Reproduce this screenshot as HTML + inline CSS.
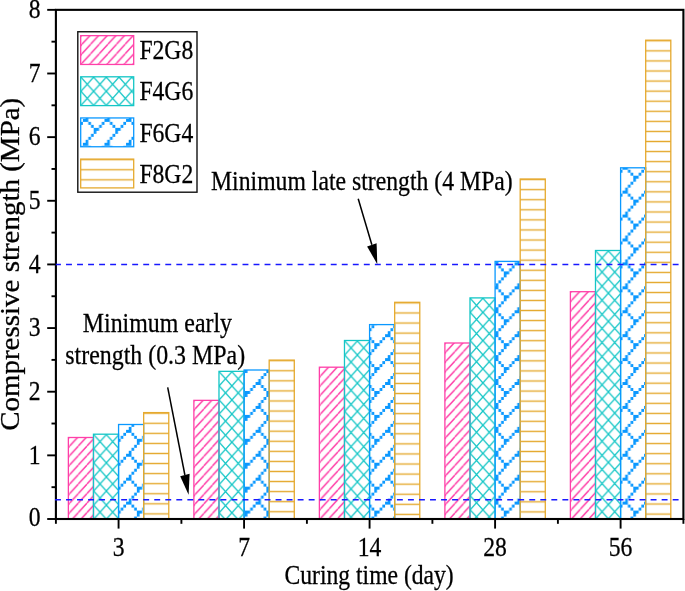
<!DOCTYPE html><html><head><meta charset="utf-8"><style>html,body{margin:0;padding:0;background:#fff;}svg{display:block;will-change:transform;}</style></head><body>
<svg width="685" height="591" viewBox="0 0 685 591">
<defs>
<pattern id="pk" patternUnits="userSpaceOnUse" x="1.3" y="-0.9" width="8.64" height="9.5"><path d="M-8.64 9.5 L0 0 M0 9.5 L8.64 0 M8.64 9.5 L17.28 0" stroke="#FF3FA8" stroke-width="1.45" fill="none"/></pattern>
<pattern id="cy" patternUnits="userSpaceOnUse" x="0.2" y="0.4" width="12.7" height="14.1"><path d="M0 0 L12.7 14.1 M0 14.1 L12.7 0 M-12.7 0 L0 14.1 M12.7 0 L25.4 14.1 M-12.7 14.1 L0 0 M12.7 14.1 L25.4 0" stroke="#14C6C6" stroke-width="1.35" fill="none"/></pattern>
<pattern id="or" patternUnits="userSpaceOnUse" x="0" y="-4.4350000000000005" width="20" height="10.07"><path d="M-1 5.035 L21 5.035" stroke="#E5A92E" stroke-width="1.4" fill="none"/></pattern>
<pattern id="bl2" patternUnits="userSpaceOnUse" x="-35.670" y="-305.600" width="21.584" height="23.920"><g fill="#0A98FF"><path d="M0.000 0.000h2.698v2.990h-2.698zM2.698 0.000h2.698v2.990h-2.698zM5.396 2.990h2.698v2.990h-2.698zM18.886 2.990h2.698v2.990h-2.698zM8.094 5.980h2.698v2.990h-2.698zM16.188 5.980h2.698v2.990h-2.698zM10.792 8.970h2.698v2.990h-2.698zM13.490 8.970h2.698v2.990h-2.698zM10.792 11.960h2.698v2.990h-2.698zM8.094 14.950h2.698v2.990h-2.698zM5.396 17.940h2.698v2.990h-2.698zM2.698 20.930h2.698v2.990h-2.698z"/></g></pattern>
<pattern id="bl6" patternUnits="userSpaceOnUse" x="-161.180" y="-251.100" width="21.584" height="23.920"><g fill="#0A98FF"><path d="M0.000 0.000h2.698v2.990h-2.698zM2.698 0.000h2.698v2.990h-2.698zM5.396 2.990h2.698v2.990h-2.698zM18.886 2.990h2.698v2.990h-2.698zM8.094 5.980h2.698v2.990h-2.698zM16.188 5.980h2.698v2.990h-2.698zM10.792 8.970h2.698v2.990h-2.698zM13.490 8.970h2.698v2.990h-2.698zM10.792 11.960h2.698v2.990h-2.698zM8.094 14.950h2.698v2.990h-2.698zM5.396 17.940h2.698v2.990h-2.698zM2.698 20.930h2.698v2.990h-2.698z"/></g></pattern>
<pattern id="bl10" patternUnits="userSpaceOnUse" x="-286.680" y="-205.700" width="21.584" height="23.920"><g fill="#0A98FF"><path d="M0.000 0.000h2.698v2.990h-2.698zM2.698 0.000h2.698v2.990h-2.698zM5.396 2.990h2.698v2.990h-2.698zM18.886 2.990h2.698v2.990h-2.698zM8.094 5.980h2.698v2.990h-2.698zM16.188 5.980h2.698v2.990h-2.698zM10.792 8.970h2.698v2.990h-2.698zM13.490 8.970h2.698v2.990h-2.698zM10.792 11.960h2.698v2.990h-2.698zM8.094 14.950h2.698v2.990h-2.698zM5.396 17.940h2.698v2.990h-2.698zM2.698 20.930h2.698v2.990h-2.698z"/></g></pattern>
<pattern id="bl14" patternUnits="userSpaceOnUse" x="-412.190" y="-142.500" width="21.584" height="23.920"><g fill="#0A98FF"><path d="M0.000 0.000h2.698v2.990h-2.698zM2.698 0.000h2.698v2.990h-2.698zM5.396 2.990h2.698v2.990h-2.698zM18.886 2.990h2.698v2.990h-2.698zM8.094 5.980h2.698v2.990h-2.698zM16.188 5.980h2.698v2.990h-2.698zM10.792 8.970h2.698v2.990h-2.698zM13.490 8.970h2.698v2.990h-2.698zM10.792 11.960h2.698v2.990h-2.698zM8.094 14.950h2.698v2.990h-2.698zM5.396 17.940h2.698v2.990h-2.698zM2.698 20.930h2.698v2.990h-2.698z"/></g></pattern>
<pattern id="bl18" patternUnits="userSpaceOnUse" x="-537.700" y="-48.900" width="21.584" height="23.920"><g fill="#0A98FF"><path d="M0.000 0.000h2.698v2.990h-2.698zM2.698 0.000h2.698v2.990h-2.698zM5.396 2.990h2.698v2.990h-2.698zM18.886 2.990h2.698v2.990h-2.698zM8.094 5.980h2.698v2.990h-2.698zM16.188 5.980h2.698v2.990h-2.698zM10.792 8.970h2.698v2.990h-2.698zM13.490 8.970h2.698v2.990h-2.698zM10.792 11.960h2.698v2.990h-2.698zM8.094 14.950h2.698v2.990h-2.698zM5.396 17.940h2.698v2.990h-2.698zM2.698 20.930h2.698v2.990h-2.698z"/></g></pattern>
<pattern id="bl22" patternUnits="userSpaceOnUse" x="2.200" y="0.950" width="21.584" height="23.920"><g fill="#0A98FF"><path d="M0.000 0.000h2.698v2.990h-2.698zM2.698 0.000h2.698v2.990h-2.698zM5.396 2.990h2.698v2.990h-2.698zM18.886 2.990h2.698v2.990h-2.698zM8.094 5.980h2.698v2.990h-2.698zM16.188 5.980h2.698v2.990h-2.698zM10.792 8.970h2.698v2.990h-2.698zM13.490 8.970h2.698v2.990h-2.698zM10.792 11.960h2.698v2.990h-2.698zM8.094 14.950h2.698v2.990h-2.698zM5.396 17.940h2.698v2.990h-2.698zM2.698 20.930h2.698v2.990h-2.698z"/></g></pattern>
</defs>
<style>text{stroke:#000;stroke-width:0.28px;paint-order:stroke;}</style>
<rect x="0" y="0" width="685" height="591" fill="#fff"/>
<rect transform="translate(68.37,437.50)" x="0" y="0" width="25.10" height="81.50" fill="url(#pk)" stroke="#FF3FA8" stroke-width="1.3"/>
<rect transform="translate(93.47,434.20)" x="0" y="0" width="25.10" height="84.80" fill="url(#cy)" stroke="#14C6C6" stroke-width="1.3"/>
<rect transform="translate(118.57,424.50)" x="0" y="0" width="25.10" height="94.50" fill="url(#bl2)" stroke="#0A98FF" stroke-width="1.3"/>
<rect transform="translate(143.67,412.60)" x="0" y="0" width="25.10" height="106.40" fill="url(#or)" stroke="#E5A92E" stroke-width="1.3"/>
<rect transform="translate(193.88,400.35)" x="0" y="0" width="25.10" height="118.65" fill="url(#pk)" stroke="#FF3FA8" stroke-width="1.3"/>
<rect transform="translate(218.98,371.35)" x="0" y="0" width="25.10" height="147.65" fill="url(#cy)" stroke="#14C6C6" stroke-width="1.3"/>
<rect transform="translate(244.08,370.00)" x="0" y="0" width="25.10" height="149.00" fill="url(#bl6)" stroke="#0A98FF" stroke-width="1.3"/>
<rect transform="translate(269.18,360.10)" x="0" y="0" width="25.10" height="158.90" fill="url(#or)" stroke="#E5A92E" stroke-width="1.3"/>
<rect transform="translate(319.38,367.20)" x="0" y="0" width="25.10" height="151.80" fill="url(#pk)" stroke="#FF3FA8" stroke-width="1.3"/>
<rect transform="translate(344.48,340.50)" x="0" y="0" width="25.10" height="178.50" fill="url(#cy)" stroke="#14C6C6" stroke-width="1.3"/>
<rect transform="translate(369.58,324.60)" x="0" y="0" width="25.10" height="194.40" fill="url(#bl10)" stroke="#0A98FF" stroke-width="1.3"/>
<rect transform="translate(394.68,302.30)" x="0" y="0" width="25.10" height="216.70" fill="url(#or)" stroke="#E5A92E" stroke-width="1.3"/>
<rect transform="translate(444.89,343.00)" x="0" y="0" width="25.10" height="176.00" fill="url(#pk)" stroke="#FF3FA8" stroke-width="1.3"/>
<rect transform="translate(469.99,297.90)" x="0" y="0" width="25.10" height="221.10" fill="url(#cy)" stroke="#14C6C6" stroke-width="1.3"/>
<rect transform="translate(495.09,261.40)" x="0" y="0" width="25.10" height="257.60" fill="url(#bl14)" stroke="#0A98FF" stroke-width="1.3"/>
<rect transform="translate(520.19,179.00)" x="0" y="0" width="25.10" height="340.00" fill="url(#or)" stroke="#E5A92E" stroke-width="1.3"/>
<rect transform="translate(570.40,291.70)" x="0" y="0" width="25.10" height="227.30" fill="url(#pk)" stroke="#FF3FA8" stroke-width="1.3"/>
<rect transform="translate(595.50,250.50)" x="0" y="0" width="25.10" height="268.50" fill="url(#cy)" stroke="#14C6C6" stroke-width="1.3"/>
<rect transform="translate(620.60,167.80)" x="0" y="0" width="25.10" height="351.20" fill="url(#bl18)" stroke="#0A98FF" stroke-width="1.3"/>
<rect transform="translate(645.70,40.20)" x="0" y="0" width="25.10" height="478.80" fill="url(#or)" stroke="#E5A92E" stroke-width="1.3"/>
<rect x="77.8" y="31.75" width="119.2" height="160.45" fill="#fff" stroke="#111" stroke-width="1.4"/>
<rect transform="translate(80.70,35.65)" x="0" y="0" width="53.00" height="28.80" fill="url(#pk)" stroke="#FF3FA8" stroke-width="1.3"/>
<text transform="translate(139.4,59.10) scale(0.875,1)" font-family='"Liberation Serif", serif' font-size="27" fill="#000">F2G8</text>
<rect transform="translate(80.70,76.80)" x="0" y="0" width="53.00" height="28.80" fill="url(#cy)" stroke="#14C6C6" stroke-width="1.3"/>
<text transform="translate(139.4,100.40) scale(0.875,1)" font-family='"Liberation Serif", serif' font-size="27" fill="#000">F4G6</text>
<rect transform="translate(80.70,117.95)" x="0" y="0" width="53.00" height="28.80" fill="url(#bl22)" stroke="#0A98FF" stroke-width="1.3"/>
<text transform="translate(139.4,141.70) scale(0.875,1)" font-family='"Liberation Serif", serif' font-size="27" fill="#000">F6G4</text>
<rect transform="translate(80.70,159.10)" x="0" y="0" width="53.00" height="28.80" fill="url(#or)" stroke="#E5A92E" stroke-width="1.3"/>
<text transform="translate(139.4,183.00) scale(0.875,1)" font-family='"Liberation Serif", serif' font-size="27" fill="#000">F8G2</text>
<rect x="55.9" y="9.85" width="627.50" height="509.15" fill="none" stroke="#000" stroke-width="2.1"/>
<line x1="55" y1="264.4" x2="683.4" y2="264.4" stroke="#1818FF" stroke-width="1.5" stroke-dasharray="5.9 5.13"/>
<line x1="55" y1="499.7" x2="683.4" y2="499.7" stroke="#1818FF" stroke-width="1.5" stroke-dasharray="5.9 5.13"/>
<line x1="47.20" y1="519.00" x2="55.9" y2="519.00" stroke="#000" stroke-width="1.9"/>
<text transform="translate(40.6,526.30) scale(0.875,1)" font-family='"Liberation Serif", serif' font-size="27" text-anchor="end">0</text>
<line x1="51.50" y1="487.18" x2="55.9" y2="487.18" stroke="#000" stroke-width="1.9"/>
<line x1="47.20" y1="455.36" x2="55.9" y2="455.36" stroke="#000" stroke-width="1.9"/>
<text transform="translate(40.6,463.56) scale(0.875,1)" font-family='"Liberation Serif", serif' font-size="27" text-anchor="end">1</text>
<line x1="51.50" y1="423.53" x2="55.9" y2="423.53" stroke="#000" stroke-width="1.9"/>
<line x1="47.20" y1="391.71" x2="55.9" y2="391.71" stroke="#000" stroke-width="1.9"/>
<text transform="translate(40.6,399.91) scale(0.875,1)" font-family='"Liberation Serif", serif' font-size="27" text-anchor="end">2</text>
<line x1="51.50" y1="359.89" x2="55.9" y2="359.89" stroke="#000" stroke-width="1.9"/>
<line x1="47.20" y1="328.07" x2="55.9" y2="328.07" stroke="#000" stroke-width="1.9"/>
<text transform="translate(40.6,336.27) scale(0.875,1)" font-family='"Liberation Serif", serif' font-size="27" text-anchor="end">3</text>
<line x1="51.50" y1="296.25" x2="55.9" y2="296.25" stroke="#000" stroke-width="1.9"/>
<line x1="47.20" y1="264.43" x2="55.9" y2="264.43" stroke="#000" stroke-width="1.9"/>
<text transform="translate(40.6,272.62) scale(0.875,1)" font-family='"Liberation Serif", serif' font-size="27" text-anchor="end">4</text>
<line x1="51.50" y1="232.60" x2="55.9" y2="232.60" stroke="#000" stroke-width="1.9"/>
<line x1="47.20" y1="200.78" x2="55.9" y2="200.78" stroke="#000" stroke-width="1.9"/>
<text transform="translate(40.6,208.98) scale(0.875,1)" font-family='"Liberation Serif", serif' font-size="27" text-anchor="end">5</text>
<line x1="51.50" y1="168.96" x2="55.9" y2="168.96" stroke="#000" stroke-width="1.9"/>
<line x1="47.20" y1="137.14" x2="55.9" y2="137.14" stroke="#000" stroke-width="1.9"/>
<text transform="translate(40.6,145.34) scale(0.875,1)" font-family='"Liberation Serif", serif' font-size="27" text-anchor="end">6</text>
<line x1="51.50" y1="105.32" x2="55.9" y2="105.32" stroke="#000" stroke-width="1.9"/>
<line x1="47.20" y1="73.49" x2="55.9" y2="73.49" stroke="#000" stroke-width="1.9"/>
<text transform="translate(40.6,81.69) scale(0.875,1)" font-family='"Liberation Serif", serif' font-size="27" text-anchor="end">7</text>
<line x1="51.50" y1="41.67" x2="55.9" y2="41.67" stroke="#000" stroke-width="1.9"/>
<line x1="47.20" y1="9.85" x2="55.9" y2="9.85" stroke="#000" stroke-width="1.9"/>
<text transform="translate(40.6,18.05) scale(0.875,1)" font-family='"Liberation Serif", serif' font-size="27" text-anchor="end">8</text>
<line x1="118.57" y1="519.0" x2="118.57" y2="528.60" stroke="#000" stroke-width="1.9"/>
<text transform="translate(118.57,556.2) scale(0.875,1)" font-family='"Liberation Serif", serif' font-size="27" text-anchor="middle">3</text>
<line x1="244.08" y1="519.0" x2="244.08" y2="528.60" stroke="#000" stroke-width="1.9"/>
<text transform="translate(244.08,556.2) scale(0.875,1)" font-family='"Liberation Serif", serif' font-size="27" text-anchor="middle">7</text>
<line x1="369.58" y1="519.0" x2="369.58" y2="528.60" stroke="#000" stroke-width="1.9"/>
<text transform="translate(369.58,556.2) scale(0.875,1)" font-family='"Liberation Serif", serif' font-size="27" text-anchor="middle">14</text>
<line x1="495.09" y1="519.0" x2="495.09" y2="528.60" stroke="#000" stroke-width="1.9"/>
<text transform="translate(495.09,556.2) scale(0.875,1)" font-family='"Liberation Serif", serif' font-size="27" text-anchor="middle">28</text>
<line x1="620.6" y1="519.0" x2="620.6" y2="528.60" stroke="#000" stroke-width="1.9"/>
<text transform="translate(620.60,556.2) scale(0.875,1)" font-family='"Liberation Serif", serif' font-size="27" text-anchor="middle">56</text>
<line x1="55.90" y1="519.0" x2="55.90" y2="523.80" stroke="#000" stroke-width="1.9"/>
<line x1="181.40" y1="519.0" x2="181.40" y2="523.80" stroke="#000" stroke-width="1.9"/>
<line x1="306.90" y1="519.0" x2="306.90" y2="523.80" stroke="#000" stroke-width="1.9"/>
<line x1="432.40" y1="519.0" x2="432.40" y2="523.80" stroke="#000" stroke-width="1.9"/>
<line x1="557.90" y1="519.0" x2="557.90" y2="523.80" stroke="#000" stroke-width="1.9"/>
<line x1="683.40" y1="519.0" x2="683.40" y2="523.80" stroke="#000" stroke-width="1.9"/>
<text transform="translate(369.1,584.1) scale(0.875,1)" font-family='"Liberation Serif", serif' font-size="27" text-anchor="middle">Curing time (day)</text>
<text transform="translate(19.4,264.3) rotate(-90) scale(1.073,1)" font-family='"Liberation Serif", serif' font-size="27" text-anchor="middle">Compressive strength (MPa)</text>
<text transform="translate(211.0,190.4) scale(0.879,1)" font-family='"Liberation Serif", serif' font-size="27">Minimum late strength (4 MPa)</text>
<text transform="translate(82.8,332) scale(0.885,1)" font-family='"Liberation Serif", serif' font-size="27">Minimum early</text>
<text transform="translate(65.3,364.3) scale(0.885,1)" font-family='"Liberation Serif", serif' font-size="27">strength (0.3 MPa)</text>
<line x1="358.2" y1="198.8" x2="371.85" y2="244.80" stroke="#000" stroke-width="1.5"/>
<polygon points="377.3,264.2 367.1,246.4 376.6,243.2" fill="#000"/>
<line x1="167.7" y1="387.3" x2="184.90" y2="475.00" stroke="#000" stroke-width="1.5"/>
<polygon points="188.6,494.8 180.2,476.2 189.6,473.8" fill="#000"/>
</svg></body></html>
